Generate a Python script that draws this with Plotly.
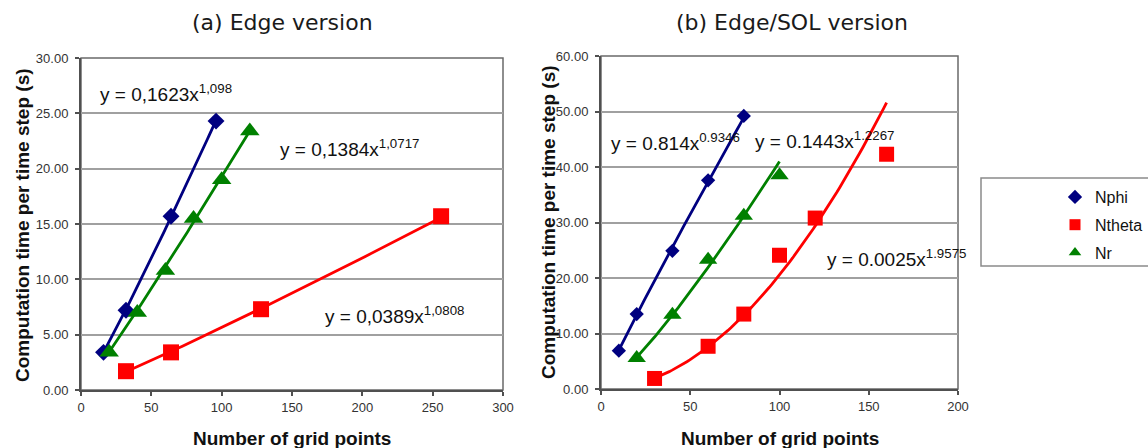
import numpy as np
import plotly.graph_objects as go

# ---- measured timings -------------------------------------------------------
# (a) Edge version
a_nphi_x = [16, 32, 64, 96]
a_nphi_y = [3.4, 7.2, 15.7, 24.3]
a_ntheta_x = [32, 64, 128, 256]
a_ntheta_y = [1.7, 3.4, 7.3, 15.7]
a_nr_x = [20, 40, 60, 80, 100, 120]
a_nr_y = [3.4, 7.0, 10.8, 15.5, 19.0, 23.4]

# (b) Edge/SOL version
b_nphi_x = [10, 20, 40, 60, 80]
b_nphi_y = [6.9, 13.5, 24.9, 37.6, 49.2]
b_ntheta_x = [30, 60, 80, 100, 120, 160]
b_ntheta_y = [1.9, 7.7, 13.5, 24.1, 30.8, 42.3]
b_nr_x = [20, 40, 60, 80, 100]
b_nr_y = [5.6, 13.4, 23.3, 31.2, 38.5]

# power-law trendlines y = c * x^p  (coefficient, exponent)
a_fit = {"Nphi": (0.1623, 1.098), "Ntheta": (0.0389, 1.0808), "Nr": (0.1384, 1.0717)}
b_fit = {"Nphi": (0.814, 0.9346), "Ntheta": (0.0025, 1.9575), "Nr": (0.1443, 1.2267)}
a_fit_text = {"Nphi": ("0,1623", "1,098"), "Ntheta": ("0,0389", "1,0808"), "Nr": ("0,1384", "1,0717")}
b_fit_text = {"Nphi": ("0.814", "0.9346"), "Ntheta": ("0.0025", "1.9575"), "Nr": ("0.1443", "1.2267")}

series_names = ["Nphi", "Ntheta", "Nr"]
titles = ["(a) Edge version", "(b) Edge/SOL version"]
x_title = "Number of grid points"
y_title = "Computation time per time step (s)"

# ---- styling ----------------------------------------------------------------
W, H = 1148, 448
colors = {"Nphi": "#000080", "Ntheta": "#ff0000", "Nr": "#008000"}
symbols = {"Nphi": "diamond", "Ntheta": "square", "Nr": "triangle-up"}
a_sizes = {"Nphi": 13, "Ntheta": 16, "Nr": 17}
b_sizes = {"Nphi": 11, "Ntheta": 15, "Nr": 16}
FONT = "Liberation Sans, Arial"


def px_x(p):
    return p / W


def px_y(p):
    return 1 - p / H


fig = go.Figure()

panels = [
    ("x", "y", {"Nphi": (a_nphi_x, a_nphi_y), "Ntheta": (a_ntheta_x, a_ntheta_y), "Nr": (a_nr_x, a_nr_y)},
     a_fit, a_sizes),
    ("x2", "y2", {"Nphi": (b_nphi_x, b_nphi_y), "Ntheta": (b_ntheta_x, b_ntheta_y), "Nr": (b_nr_x, b_nr_y)},
     b_fit, b_sizes),
]

# trendlines first, markers on top
for xa, ya, data, fits, sizes in panels:
    for name in series_names:
        xs, ys = data[name]
        c, p = fits[name]
        xt = np.linspace(min(xs), max(xs), 80)
        fig.add_trace(go.Scatter(x=xt, y=c * xt ** p, mode="lines", xaxis=xa, yaxis=ya,
                                 line=dict(color=colors[name], width=2.8),
                                 showlegend=False, hoverinfo="skip"))
for xa, ya, data, fits, sizes in panels:
    for name in series_names:
        xs, ys = data[name]
        fig.add_trace(go.Scatter(x=xs, y=ys, mode="markers", xaxis=xa, yaxis=ya, name=name,
                                 marker=dict(symbol=symbols[name], size=sizes[name],
                                             color=colors[name], line=dict(width=0)),
                                 showlegend=False))

# legend entries
for i, name in enumerate(series_names):
    fig.add_trace(go.Scatter(x=[None], y=[None], mode="markers", name=name, xaxis="x2", yaxis="y2",
                             legendgroup=name,
                             marker=dict(symbol=symbols[name], size=11, color=colors[name])))

axis_common = dict(showline=True, linecolor="#505050", linewidth=2, ticks="outside",
                   ticklen=4, tickwidth=1.5, tickcolor="#505050", zeroline=False,
                   tickfont=dict(family=FONT, size=13, color="#333333"),
                   fixedrange=True)

fig.update_layout(
    width=W, height=H,
    margin=dict(l=0, r=0, t=0, b=0, autoexpand=False),
    paper_bgcolor="white", plot_bgcolor="white",
    showlegend=True,
    xaxis=dict(domain=[px_x(81), px_x(503)], range=[0, 300], dtick=50, showgrid=False,
               anchor="y", **axis_common),
    yaxis=dict(domain=[px_y(390), px_y(58)], range=[0, 30], dtick=5, tickformat=".2f",
               showgrid=True, gridcolor="#a0a0a0", gridwidth=1.5, anchor="x",
               ticklabelstandoff=4, **axis_common),
    xaxis2=dict(domain=[px_x(601), px_x(958)], range=[0, 200], dtick=50, showgrid=False,
                anchor="y2", **axis_common),
    yaxis2=dict(domain=[px_y(389), px_y(56)], range=[0, 60], dtick=10, tickformat=".2f",
                showgrid=True, gridcolor="#a0a0a0", gridwidth=1.5, anchor="x2",
                ticklabelstandoff=4, **axis_common),
    legend=dict(x=px_x(1055), y=px_y(180), xanchor="left", yanchor="top",
                bgcolor="rgba(0,0,0,0)", borderwidth=0, traceorder="grouped",
                tracegroupgap=4,
                font=dict(family=FONT, size=16, color="#111111")),
)

# plot-area frames and legend box
for xd, yd in [("x domain", "y domain"), ("x2 domain", "y2 domain")]:
    fig.add_shape(type="rect", xref=xd, yref=yd, x0=0, x1=1, y0=0, y1=1,
                  line=dict(color="#6a6a6a", width=1.5), layer="below")
fig.add_shape(type="rect", xref="paper", yref="paper", x0=px_x(981), x1=px_x(1160),
              y0=px_y(266), y1=px_y(178), line=dict(color="#8a8a8a", width=1.5))

ann = []
# panel titles
for text, cx in zip(titles, [282, 792]):
    ann.append(dict(text=text, x=px_x(cx), y=px_y(22), xref="paper", yref="paper",
                    xanchor="center", yanchor="middle", showarrow=False,
                    font=dict(family="DejaVu Sans, Verdana", size=22, color="#1a1a1a")))
# axis titles
for cx in [292, 780]:
    ann.append(dict(text=f"<b>{x_title}</b>", x=px_x(cx), y=px_y(438), xref="paper", yref="paper",
                    xanchor="center", yanchor="middle", showarrow=False,
                    font=dict(family=FONT, size=19, color="#111111")))
for cx, cy in [(22, 225), (548, 222)]:
    ann.append(dict(text=f"<b>{y_title}</b>", x=px_x(cx), y=px_y(cy), xref="paper", yref="paper",
                    xanchor="center", yanchor="middle", showarrow=False, textangle=-90,
                    font=dict(family=FONT, size=19, color="#111111")))

# trendline equations (left edge, vertical centre in data coordinates)
a_eq_pos = {"Nphi": (12, 26.8), "Nr": (140, 21.9), "Ntheta": (172, 6.8)}
b_eq_pos = {"Nphi": (4.5, 44.5), "Nr": (85, 44.9), "Ntheta": (125.5, 23.6)}
for xa, ya, texts, pos in [("x", "y", a_fit_text, a_eq_pos), ("x2", "y2", b_fit_text, b_eq_pos)]:
    for name in series_names:
        c, p = texts[name]
        ann.append(dict(text=f"y = {c}x<sup>{p}</sup>", x=pos[name][0], y=pos[name][1],
                        xref=xa, yref=ya, xanchor="left", yanchor="middle", showarrow=False,
                        font=dict(family=FONT, size=19, color="#111111")))

fig.update_layout(annotations=ann)
fig.write_html("out.html")
